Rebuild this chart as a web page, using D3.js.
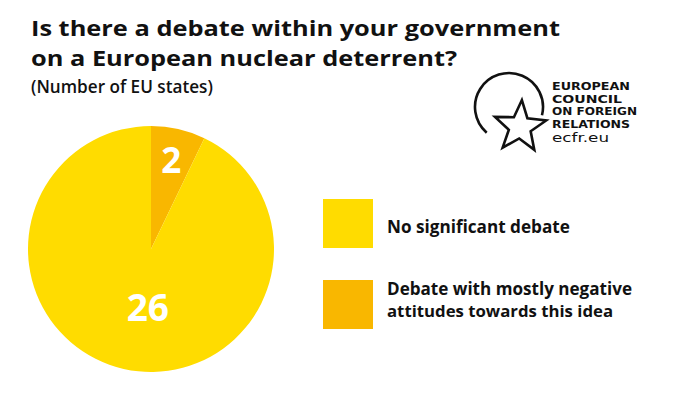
<!DOCTYPE html>
<html>
<head>
<meta charset="utf-8">
<script src="https://cdn.jsdelivr.net/npm/d3@7"></script>
<style>
html,body{margin:0;padding:0;background:#fff;}
svg{display:block;}
</style>
</head>
<body>
<svg id="chart" width="678" height="394"></svg>
<script>
// ---- data ----
const categories = ["Debate with mostly negative attitudes towards this idea", "No significant debate"];
const values = [2, 26];
const colors = ["#F9B700", "#FFDC00"];
const legendOrder = [1, 0];
const legendLines = [["No significant debate"], ["Debate with mostly negative", "attitudes towards this idea"]];
const titleLines = ["Is there a debate within your government", "on a European nuclear deterrent?"];
const subtitle = "(Number of EU states)";
const logoLines = ["EUROPEAN", "COUNCIL", "ON FOREIGN", "RELATIONS"];
const logoUrl = "ecfr.eu";

const svg = d3.select("#chart");
svg.append("rect").attr("width", 678).attr("height", 394).attr("fill", "#fff");

const FONT = "'Open Sans', sans-serif";

function fit(sel, target) {
  const node = sel.node();
  const fs = parseFloat(sel.attr("font-size"));
  const w = node.getComputedTextLength();
  sel.attr("font-size", (fs * target / w).toFixed(2));
}

// ---- title ----
const titleWidths = [529, 426];
const titleBase = [36, 66];
titleLines.forEach((t, i) => {
  svg.append("text").attr("x", 31).attr("y", titleBase[i])
    .attr("font-family", FONT).attr("font-weight", "bold").attr("font-size", 21.5)
    .attr("fill", "#111")
    .attr("textLength", titleWidths[i]).attr("lengthAdjust", "spacingAndGlyphs")
    .text(t);
});
const sub = svg.append("text").attr("x", 31).attr("y", 93)
  .attr("font-family", FONT).attr("font-weight", 600).attr("font-size", 15)
  .attr("fill", "#111").text(subtitle);
fit(sub, 182);

// ---- pie ----
const cx = 151, cy = 249, R = 123;
const pie = d3.pie().sort(null).value(d => d)(values);
const arc = d3.arc().innerRadius(0).outerRadius(R);
const g = svg.append("g").attr("transform", `translate(${cx},${cy})`);
g.selectAll("path").data(pie).join("path")
  .attr("d", arc).attr("fill", (d, i) => colors[i]);

const labelRadius = [91, 59];
const labelShift = [0, -0.17];
g.selectAll("text.lbl").data(pie).join("text").attr("class", "lbl")
  .attr("transform", (d, i) => {
    const a = (d.startAngle + d.endAngle) / 2 + labelShift[i];
    const r = labelRadius[i];
    return `translate(${r * Math.sin(a)},${-r * Math.cos(a)})`;
  })
  .attr("text-anchor", "middle").attr("dy", "0.36em")
  .attr("font-family", FONT).attr("font-weight", "bold")
  .attr("font-size", (d, i) => i === 0 ? 35 : 37)
  .attr("fill", "#fff").text(d => d.data);

// ---- legend ----
const legY = [199, 280];
const legTextY = [[233], [295, 317]];
const legWidths = [[183], [245, 226]];
legendOrder.forEach((k, j) => {
  svg.append("rect").attr("x", 323).attr("y", legY[j]).attr("width", 50).attr("height", 49)
    .attr("fill", colors[k]);
  legendLines[j].forEach((line, li) => {
    const el = svg.append("text").attr("x", 387).attr("y", legTextY[j][li])
      .attr("font-family", FONT).attr("font-weight", "bold").attr("font-size", 17)
      .attr("fill", "#111").text(line);
    fit(el, legWidths[j][li]);
  });
});

// ---- logo ----
const logo = svg.append("g");
const toRad = a => a * Math.PI / 180;
const p = d3.path();
const lcx = 509, lcy = 107, lr = 34;
p.arc(lcx, lcy, lr, toRad(131), toRad(374));
logo.append("path").attr("d", p.toString()).attr("fill", "none")
  .attr("stroke", "#111").attr("stroke-width", 2.6);
const sc = [520, 127], sR = 27, sr = 11.5, rot = 4;
const starPts = d3.range(10).map(i => {
  const a = toRad(rot + i * 36);
  const rr = i % 2 === 0 ? sR : sr;
  return [sc[0] + rr * Math.sin(a), sc[1] - rr * Math.cos(a)];
});
logo.append("path").attr("d", d3.line()(starPts) + "Z").attr("fill", "#fff")
  .attr("stroke", "#111").attr("stroke-width", 2.6).attr("stroke-linejoin", "miter");
const logoWidths = [78, 70, 85, 78];
logoLines.forEach((t, i) => {
  logo.append("text").attr("x", 552).attr("y", 90 + i * 12.6)
    .attr("font-family", "'DejaVu Sans Condensed', 'DejaVu Sans', sans-serif")
    .attr("font-weight", "bold").attr("font-size", 10.6).attr("fill", "#111")
    .attr("textLength", logoWidths[i]).attr("lengthAdjust", "spacingAndGlyphs")
    .text(t);
});
logo.append("text").attr("x", 552).attr("y", 142)
  .attr("font-family", "'DejaVu Sans', sans-serif").attr("font-size", 11.5).attr("fill", "#111")
  .attr("textLength", 57).attr("lengthAdjust", "spacingAndGlyphs").text(logoUrl);
</script>
</body>
</html>
